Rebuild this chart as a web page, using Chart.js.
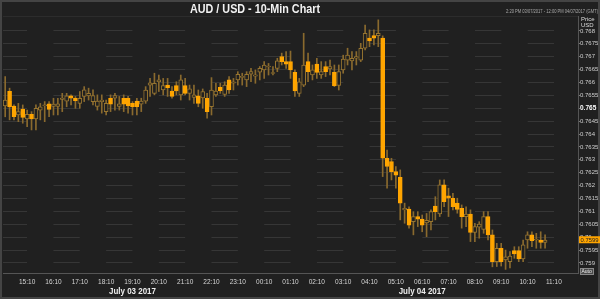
<!DOCTYPE html>
<html>
<head>
<meta charset="utf-8">
<script src="https://cdn.jsdelivr.net/npm/chart.js@4.4.0/dist/chart.umd.min.js"></script>
<style>
  html, body { margin: 0; padding: 0; background: #202020; }
</style>
</head>
<body>
<canvas id="fxChart" width="600" height="299"></canvas>
<script>
// AUD/USD 10 minute candles, 14:20 (03/07) to 10:50 (04/07)
const opens = [
  0.76509, 0.76566, 0.76509, 0.76474, 0.76497, 0.76459, 0.76477, 0.76459, 0.76493, 0.76510,
  0.76517, 0.76507, 0.76507, 0.76534, 0.76528, 0.76548, 0.76539, 0.76519, 0.76546, 0.76548,
  0.76526, 0.76507, 0.76526, 0.76487, 0.76539, 0.76539, 0.76507, 0.76539, 0.76539, 0.76519,
  0.76528, 0.76516, 0.76528, 0.76590, 0.76558, 0.76603, 0.76571, 0.76590, 0.76567, 0.76588,
  0.76552, 0.76588, 0.76558, 0.76542, 0.76548, 0.76540, 0.76539, 0.76506, 0.76552, 0.76581,
  0.76554, 0.76610, 0.76597, 0.76610, 0.76620, 0.76610, 0.76632, 0.76625, 0.76640, 0.76649,
  0.76660, 0.76635, 0.76655, 0.76701, 0.76681, 0.76681, 0.76639, 0.76558, 0.76590, 0.76681,
  0.76629, 0.76671, 0.76629, 0.76662, 0.76653, 0.76639, 0.76589, 0.76649, 0.76687, 0.76684,
  0.76694, 0.76687, 0.76733, 0.76772, 0.76782, 0.76782, 0.76772, 0.76306, 0.76293, 0.76254,
  0.76232, 0.76106, 0.76109, 0.76060, 0.76080, 0.76070, 0.76055, 0.76060, 0.76121, 0.76090,
  0.76203, 0.76160, 0.76151, 0.76132, 0.76112, 0.76080, 0.76090, 0.76018, 0.76039, 0.76030,
  0.76080, 0.76009, 0.75905, 0.75957, 0.75912, 0.75905, 0.75948, 0.75948, 0.75916, 0.75989,
  0.76009, 0.75989, 0.75989, 0.75980
];
const highs = [
  0.76623, 0.76578, 0.76513, 0.76519, 0.76513, 0.76493, 0.76487, 0.76513, 0.76519, 0.76526,
  0.76526, 0.76539, 0.76539, 0.76558, 0.76558, 0.76552, 0.76546, 0.76565, 0.76584, 0.76578,
  0.76572, 0.76552, 0.76552, 0.76532, 0.76552, 0.76558, 0.76546, 0.76552, 0.76546, 0.76526,
  0.76539, 0.76539, 0.76584, 0.76616, 0.76636, 0.76629, 0.76616, 0.76616, 0.76584, 0.76603,
  0.76629, 0.76616, 0.76590, 0.76590, 0.76571, 0.76575, 0.76558, 0.76619, 0.76597, 0.76597,
  0.76603, 0.76623, 0.76616, 0.76642, 0.76636, 0.76642, 0.76655, 0.76649, 0.76662, 0.76681,
  0.76674, 0.76662, 0.76694, 0.76714, 0.76720, 0.76722, 0.76649, 0.76616, 0.76791, 0.76714,
  0.76668, 0.76694, 0.76681, 0.76681, 0.76687, 0.76668, 0.76668, 0.76706, 0.76733, 0.76720,
  0.76720, 0.76752, 0.76823, 0.76804, 0.76804, 0.76843, 0.76781, 0.76338, 0.76306, 0.76274,
  0.76261, 0.76132, 0.76118, 0.76099, 0.76099, 0.76086, 0.76092, 0.76106, 0.76157, 0.76222,
  0.76222, 0.76190, 0.76170, 0.76151, 0.76125, 0.76118, 0.76106, 0.76054, 0.76060, 0.76099,
  0.76099, 0.76028, 0.75976, 0.75976, 0.75950, 0.75944, 0.75963, 0.75963, 0.75989, 0.76021,
  0.76021, 0.76015, 0.76021, 0.76009
];
const lows = [
  0.76467, 0.76455, 0.76455, 0.76448, 0.76442, 0.76429, 0.76416, 0.76416, 0.76455, 0.76448,
  0.76467, 0.76474, 0.76474, 0.76487, 0.76506, 0.76513, 0.76500, 0.76500, 0.76526, 0.76532,
  0.76513, 0.76493, 0.76481, 0.76474, 0.76487, 0.76493, 0.76493, 0.76487, 0.76481, 0.76474,
  0.76474, 0.76487, 0.76519, 0.76546, 0.76552, 0.76565, 0.76552, 0.76546, 0.76539, 0.76552,
  0.76532, 0.76552, 0.76532, 0.76519, 0.76506, 0.76500, 0.76462, 0.76474, 0.76546, 0.76558,
  0.76546, 0.76558, 0.76571, 0.76590, 0.76590, 0.76584, 0.76603, 0.76597, 0.76610, 0.76616,
  0.76629, 0.76629, 0.76642, 0.76668, 0.76655, 0.76616, 0.76546, 0.76546, 0.76584, 0.76603,
  0.76610, 0.76616, 0.76616, 0.76623, 0.76629, 0.76584, 0.76571, 0.76636, 0.76668, 0.76649,
  0.76668, 0.76681, 0.76726, 0.76739, 0.76746, 0.76739, 0.76235, 0.76190, 0.76222, 0.76190,
  0.76067, 0.76054, 0.76035, 0.76009, 0.76041, 0.76021, 0.76002, 0.76028, 0.76067, 0.76080,
  0.76118, 0.76080, 0.76106, 0.76093, 0.76035, 0.76041, 0.75983, 0.75983, 0.75996, 0.76015,
  0.75989, 0.75885, 0.75886, 0.75888, 0.75875, 0.75881, 0.75918, 0.75905, 0.75905, 0.75957,
  0.75963, 0.75957, 0.75957, 0.75957
];
const closes = [
  0.76532, 0.76505, 0.76467, 0.76487, 0.76465, 0.76477, 0.76459, 0.76500, 0.76506, 0.76513,
  0.76496, 0.76516, 0.76517, 0.76540, 0.76548, 0.76539, 0.76530, 0.76539, 0.76572, 0.76558,
  0.76549, 0.76528, 0.76532, 0.76519, 0.76516, 0.76549, 0.76517, 0.76516, 0.76509, 0.76506,
  0.76506, 0.76528, 0.76571, 0.76599, 0.76597, 0.76610, 0.76588, 0.76580, 0.76546, 0.76567,
  0.76610, 0.76558, 0.76575, 0.76552, 0.76519, 0.76565, 0.76487, 0.76571, 0.76567, 0.76568,
  0.76590, 0.76571, 0.76603, 0.76632, 0.76623, 0.76632, 0.76642, 0.76630, 0.76655, 0.76668,
  0.76664, 0.76638, 0.76684, 0.76681, 0.76671, 0.76649, 0.76567, 0.76603, 0.76668, 0.76642,
  0.76649, 0.76639, 0.76642, 0.76642, 0.76662, 0.76588, 0.76642, 0.76691, 0.76706, 0.76694,
  0.76701, 0.76733, 0.76791, 0.76761, 0.76772, 0.76791, 0.76306, 0.76274, 0.76254, 0.76241,
  0.76132, 0.76112, 0.76047, 0.76080, 0.76070, 0.76047, 0.76065, 0.76099, 0.76099, 0.76203,
  0.76138, 0.76151, 0.76118, 0.76108, 0.76080, 0.76090, 0.76018, 0.76041, 0.76051, 0.76080,
  0.76009, 0.75905, 0.75957, 0.75905, 0.75924, 0.75927, 0.75935, 0.75916, 0.75970, 0.76009,
  0.75986, 0.75991, 0.75980, 0.75989
];

const priceTicks = [0.759, 0.7595, 0.76, 0.7605, 0.761, 0.7615, 0.762, 0.7625, 0.763, 0.7635,
  0.764, 0.7645, 0.765, 0.7655, 0.766, 0.7665, 0.767, 0.7675, 0.768];
const hourTicks = ['15:10', '16:10', '17:10', '18:10', '19:10', '20:10', '21:10', '22:10', '23:10', '00:10',
  '01:10', '02:10', '03:10', '04:10', '05:10', '06:10', '07:10', '08:10', '09:10', '10:10', '11:10'];
const sessionLines = ['19:10', '20:10', '01:10', '02:10', '06:10', '07:10'];
const dayLabels = [['July 03 2017', '19:10'], ['July 04 2017', '06:10']];
const lastPrice = 0.7599;
const titleText = 'AUD / USD - 10-Min Chart';
const rangeText = '2:20 PM 03/07/2017 - 12:00 PM 04/07/2017 (GMT)';

// 10 minute slots from 14:20 up to 12:00 next day
const timeLabels = [];
for (let m = 14 * 60 + 20; timeLabels.length < 131; m += 10) {
  const h = Math.floor(m / 60) % 24;
  timeLabels.push(String(h).padStart(2, '0') + ':' + String(m % 60).padStart(2, '0'));
}

const BG = '#202020';
const ORANGE = '#ffa500';
const FONT = '"Liberation Sans", Arial, sans-serif';
const isMajor = c => !!(c.tick && c.tick.value === 0.765);

const overlay = {
  id: 'overlay',
  beforeDraw(chart) {
    const ctx = chart.ctx;
    ctx.save();
    ctx.fillStyle = BG;
    ctx.fillRect(0, 0, chart.width, chart.height);
    ctx.restore();
  },
  afterDraw(chart) {
    const { ctx, chartArea, scales } = chart;
    ctx.save();
    // frame
    ctx.strokeStyle = '#444';
    ctx.lineWidth = 2;
    ctx.strokeRect(1, 1, chart.width - 2, chart.height - 2);
    ctx.strokeStyle = '#2c2c2c';
    ctx.lineWidth = 1;
    ctx.beginPath();
    ctx.moveTo(chartArea.left, chartArea.top + 0.5);
    ctx.lineTo(chartArea.right, chartArea.top + 0.5);
    ctx.stroke();

    // title
    ctx.fillStyle = '#f2f2f2';
    ctx.textAlign = 'center';
    ctx.textBaseline = 'middle';
    ctx.font = 'bold 13px ' + FONT;
    ctx.fillText(titleText, 255, 9.5, 130);

    ctx.font = '4.5px ' + FONT;
    ctx.fillStyle = '#aaa';
    ctx.textAlign = 'right';
    ctx.fillText(rangeText, 598, 12, 92);

    ctx.textAlign = 'left';
    ctx.fillStyle = '#ddd';
    ctx.font = '6px ' + FONT;
    ctx.fillText('Price', 581, 19);
    ctx.fillText('USD', 581, 25.5);

    // day labels under the time axis
    ctx.textAlign = 'center';
    ctx.fillStyle = '#eee';
    ctx.font = 'bold 8.5px ' + FONT;
    dayLabels.forEach(([text, at]) => {
      ctx.fillText(text, scales.x.getPixelForValue(timeLabels.indexOf(at)), 292, 47);
    });

    // last price marker
    const yLast = scales.y.getPixelForValue(lastPrice);
    ctx.fillStyle = ORANGE;
    ctx.fillRect(chartArea.right + 1, yLast - 3.5, 22, 7);
    ctx.fillStyle = '#222';
    ctx.textAlign = 'left';
    ctx.font = '6px ' + FONT;
    ctx.fillText(lastPrice.toFixed(4), chartArea.right + 2.5, yLast + 0.5, 18);

    // Auto button
    ctx.fillStyle = '#4a4a4a';
    ctx.fillRect(580, 268, 14, 7);
    ctx.strokeStyle = '#888';
    ctx.strokeRect(580.5, 268.5, 13, 6);
    ctx.fillStyle = '#eee';
    ctx.font = '5px ' + FONT;
    ctx.fillText('Auto', 581.5, 271.8, 11);
    ctx.restore();
  }
};

new Chart(document.getElementById('fxChart'), {
  type: 'bar',
  data: {
    labels: timeLabels,
    datasets: [
      {
        label: 'body',
        data: opens.map((o, i) => [o, closes[i]]),
        backgroundColor: opens.map((o, i) => closes[i] < o ? ORANGE : BG),
        borderColor: opens.map((o, i) => closes[i] < o ? ORANGE : '#977530'),
        borderWidth: 1,
        borderSkipped: false,
        barThickness: 4,
        minBarLength: 1,
        grouped: false,
        order: 0
      },
      {
        label: 'wick',
        data: lows.map((l, i) => [l, highs[i]]),
        backgroundColor: '#8a6a2e',
        barThickness: 1,
        grouped: false,
        order: 1
      }
    ]
  },
  options: {
    responsive: false,
    animation: false,
    layout: { padding: { left: 3, top: 16, right: 0, bottom: 0 } },
    plugins: {
      legend: { display: false },
      tooltip: { enabled: false },
      title: { display: false }
    },
    scales: {
      x: {
        offset: true,
        afterFit: s => { s.height = 26; },
        grid: {
          offset: false,
          drawTicks: false,
          color: c => sessionLines.includes(timeLabels[c.index]) ? '#3a3a3a' : 'transparent'
        },
        border: { color: '#555' },
        ticks: {
          autoSkip: false,
          maxRotation: 0,
          padding: 5,
          color: '#d6d6d6',
          font: { size: 6.5, family: FONT },
          callback: (v, i) => hourTicks.includes(timeLabels[i]) ? timeLabels[i] : null
        }
      },
      y: {
        position: 'right',
        min: 0.75861,
        max: 0.76858,
        afterBuildTicks: s => { s.ticks = priceTicks.map(v => ({ value: v })); },
        afterFit: s => { s.width = 22; },
        grid: { color: '#363636', tickLength: 2, tickColor: '#777' },
        border: { color: '#555', dash: [26.35, 26.35], dashOffset: 2.3 },
        ticks: {
          padding: 0,
          color: c => isMajor(c) ? '#fff' : '#d0d0d0',
          font: c => ({ size: isMajor(c) ? 6.5 : 6, family: FONT, weight: isMajor(c) ? 'bold' : 'normal' }),
          callback: v => String(+v.toFixed(4))
        }
      }
    }
  },
  plugins: [overlay]
});
</script>
</body>
</html>
